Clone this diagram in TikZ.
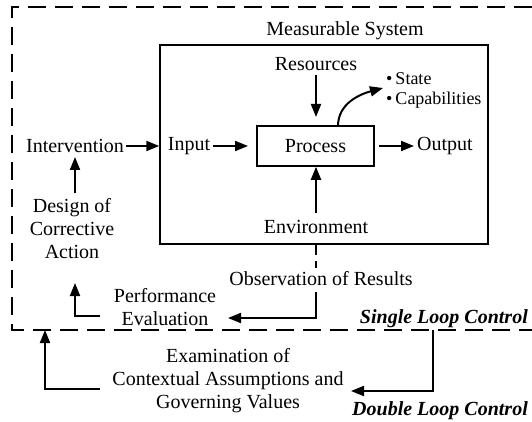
\documentclass[tikz,border=0pt]{standalone}
\usepackage{fontspec}
\setmainfont{Liberation Serif}
\usetikzlibrary{arrows.meta}
\begin{document}
\begin{tikzpicture}[x=1pt,y=-1pt,
  lbl/.style={inner sep=0pt, font=\fontsize{20}{23}\selectfont, align=center},
  slbl/.style={inner sep=0pt, font=\fontsize{18}{21}\selectfont, anchor=west},
  blbl/.style={inner sep=0pt, font=\fontsize{20}{23}\selectfont\bfseries\itshape},
  arr/.style={line width=2pt, -{Triangle[length=13pt,width=10pt]}},
  ln/.style={line width=2pt},
  boxline/.style={draw, line width=1.5pt},
  dsh/.style={line width=2pt, dash pattern=on 18pt off 9pt},
  ]
\useasboundingbox (0,0) rectangle (532,422);
% dashed boundary
\coordinate (dtr) at (532,7);
\coordinate (dtl) at (12,7);
\coordinate (dbl) at (12,330);
\coordinate (dbr) at (532,330);
\draw[dsh] (dtr) -- (dtl) -- (dbl) -- (dbr);
% system
\node[lbl] (ms) at (345,31) {Measurable System};
\node[boxline, minimum width=328pt, minimum height=199pt, inner sep=0pt] (sys) at (324,144.5) {};
\node[lbl, boxline, minimum width=117pt, minimum height=40pt] (proc) at (315.5,146) {Process};
\node[lbl] (res) at (316,64) {Resources};
\node[slbl] (st) at (386,79) {\textbullet\hspace{3pt}State};
\node[slbl] (cap) at (386,100) {\textbullet\hspace{3pt}Capabilities};
\node[lbl] (out) at (445,146) {Output};
\node[lbl] (inp) at (189,146) {Input};
\node[lbl] (int) at (75,146) {Intervention};
\node[lbl] (env) at (316,227) {Environment};
\node[lbl] (obs) at (321,279) {Observation of Results};
\node[lbl] (des) at (72,229) {Design of\\Corrective\\Action};
\node[lbl] (perf) at (165,307) {Performance\\Evaluation};
\node[blbl, anchor=east] (slc) at (528,319) {Single Loop Control};
\node[lbl] (exam) at (228,381) {Examination of\\Contextual Assumptions and\\Governing Values};
\node[blbl, anchor=east] (dlc) at (528,411) {Double Loop Control};
% arrows inside
\draw[arr] (316,75) -- (316,117);
\draw[arr] (338,126) to[out=90,in=195] (383,88);
\draw[arr] (proc.east) ++(4,0) -- (414,146);
\draw[arr] (inp.east) ++(3,0) -- (248,146);
\draw[arr] (int.east) ++(2,0) -- (sys.west |- int);
\draw[arr] (75,193) -- (75,157);
\draw[arr] (316,213) -- (proc.south -| 316,0);
\draw[ln, dash pattern=on 10pt off 6pt] (316,245) -- (316,268);
% observation to evaluation
\coordinate (oe) at (316,318);
\draw[arr] (316,292) -- (oe) -- (228,318);
% evaluation to design
\coordinate (pe) at (75,316);
\draw[arr] (100,316) -- (pe) -- (75,283);
% double loop
\coordinate (dl1) at (433,330);
\coordinate (dl2) at (433,391);
\draw[arr] (dl1) -- (dl2) -- (351,391);
\coordinate (ex) at (45,389);
\draw[arr] (100,389) -- (ex) -- (45,330);
\end{tikzpicture}
\end{document}
